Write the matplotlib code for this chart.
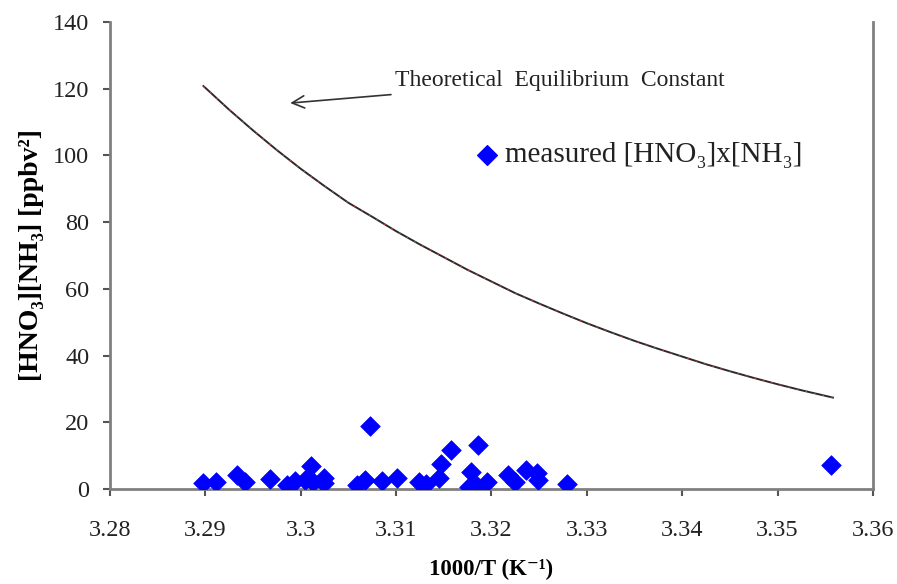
import matplotlib.pyplot as plt

# measured points (1000/T, [HNO3]x[NH3])
meas_x = [3.2898, 3.2911, 3.2933, 3.2942, 3.2968, 3.2986, 3.2994, 3.3004, 3.3011,
          3.3013, 3.3024, 3.3024, 3.3059, 3.3067, 3.3073, 3.3085, 3.3101, 3.3124,
          3.3131, 3.3145, 3.3147, 3.3158, 3.3179, 3.3176, 3.3185, 3.3186, 3.3195,
          3.3217, 3.3225, 3.3236, 3.3248, 3.3249, 3.3279, 3.3556]
meas_y = [1.7, 2.0, 4.2, 2.2, 3.0, 1.2, 2.4, 2.7, 7.0,
          2.2, 3.2, 1.8, 1.2, 2.7, 18.9, 2.4, 3.2, 2.2,
          1.4, 3.2, 7.4, 11.7, 5.2, 0.5, 0.9, 13.2, 2.2,
          4.2, 2.2, 5.7, 4.9, 2.7, 1.4, 7.2]

# theoretical equilibrium constant curve
theo_x = [3.2898, 3.2925, 3.295, 3.2975, 3.30, 3.3025, 3.305, 3.3075, 3.31,
          3.3125, 3.315, 3.3175, 3.32, 3.3225, 3.325, 3.3275, 3.33, 3.3325,
          3.335, 3.3375, 3.34, 3.3425, 3.345, 3.3475, 3.35, 3.3525, 3.3558]
theo_y = [120.8, 113.7, 107.5, 101.6, 96.0, 90.8, 85.8, 81.6, 77.3,
          73.3, 69.5, 65.7, 62.2, 58.7, 55.6, 52.6, 49.7, 47.0,
          44.4, 42.0, 39.7, 37.4, 35.3, 33.3, 31.4, 29.6, 27.4]

xticks = [3.28, 3.29, 3.30, 3.31, 3.32, 3.33, 3.34, 3.35, 3.36]
xticklabels = ['3.28', '3.29', '3.3', '3.31', '3.32', '3.33', '3.34', '3.35', '3.36']
yticks = [0, 20, 40, 60, 80, 100, 120, 140]

plt.rcParams['font.family'] = ['Liberation Serif', 'DejaVu Serif']

fig = plt.figure(figsize=(8.97, 5.84), dpi=100)
ax = fig.add_axes([0.1226, 0.1627, 0.8506, 0.7996])

ax.plot(theo_x, theo_y, color='#2a2a2a', lw=1.4, zorder=2)
ax.plot(theo_x, theo_y, color='#d04040', lw=0.7, ls=(0, (2, 7)), zorder=3)
ax.scatter(meas_x, meas_y, marker='D', s=100, color='#0000ff', edgecolors='#0000ff',
           linewidths=0.5, zorder=4)

ax.set_xlim(3.28, 3.36)
ax.set_ylim(0, 140)
ax.set_xticks(xticks)
ax.set_xticklabels(xticklabels)
ax.set_yticks(yticks)
ax.tick_params(direction='out', length=5, width=1.5, color='#555555',
               labelsize=17.5, labelcolor='#222222')
ax.tick_params(axis='x', pad=17)
ax.tick_params(axis='y', pad=10)

for side in ['left', 'bottom', 'right']:
    ax.spines[side].set_color('#808080')
    ax.spines[side].set_linewidth(2)
ax.spines['top'].set_visible(False)

ax.set_xlabel('1000/T (K⁻¹)', fontsize=16.5, fontweight='bold', labelpad=13)
ax.set_ylabel('[HNO₃][NH₃] [ppbv²]', fontsize=20, fontweight='bold', labelpad=6)

ax.annotate('Theoretical  Equilibrium  Constant', xy=(3.2989, 115.7), xytext=(3.3099, 122.5),
            fontsize=17, color='#222222', va='center', ha='left',
            arrowprops=dict(arrowstyle='->', color='#333333', lw=1.2,
                            shrinkA=8, shrinkB=0, mutation_scale=22))

ax.scatter([3.3195], [100.1], marker='D', s=100, color='#0000ff', zorder=4)
ax.text(3.3214, 100.1, 'measured [HNO₃]x[NH₃]', fontsize=21, color='#222222',
        va='center', ha='left')

fig.savefig('out.png', dpi=100)
